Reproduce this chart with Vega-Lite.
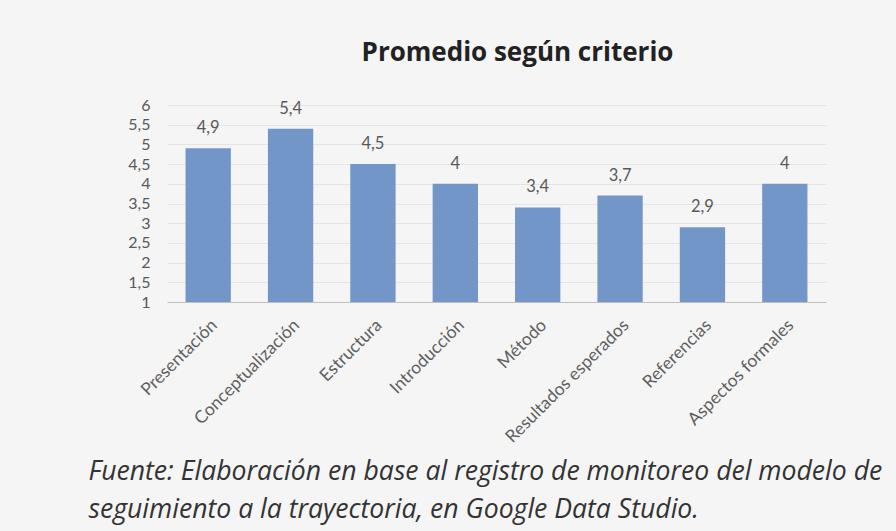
{
  "$schema": "https://vega.github.io/schema/vega-lite/v6.json",
  "autosize": "none",
  "width": 659,
  "height": 197,
  "padding": {"left": 167, "top": 105, "right": 70, "bottom": 229},
  "background": "#f5f5f5",
  "title": {
    "text": "Promedio según criterio",
    "font": "Open Sans",
    "fontSize": 26,
    "fontWeight": "bold",
    "color": "#222222",
    "anchor": "middle",
    "frame": "group",
    "dx": 21,
    "baseline": "alphabetic",
    "offset": 10
  },
  "data": {
    "values": [
      {"criterio": "Presentación", "promedio": 4.9},
      {"criterio": "Conceptualización", "promedio": 5.4},
      {"criterio": "Estructura", "promedio": 4.5},
      {"criterio": "Introducción", "promedio": 4},
      {"criterio": "Método", "promedio": 3.4},
      {"criterio": "Resultados esperados", "promedio": 3.7},
      {"criterio": "Referencias", "promedio": 2.9},
      {"criterio": "Aspectos formales", "promedio": 4}
    ]
  },
  "encoding": {
    "x": {
      "field": "criterio",
      "type": "nominal",
      "sort": null,
      "scale": {"paddingInner": 0.45, "paddingOuter": 0.225},
      "axis": {
        "title": ["Fuente: Elaboración en base al registro de monitoreo del modelo de", "seguimiento a la trayectoria, en Google Data Studio."],
        "titleFont": "Open Sans",
        "titleFontStyle": "italic",
        "titleFontWeight": "normal",
        "titleFontSize": 26.6,
        "titleColor": "#333333",
        "titleAlign": "left",
        "titleAnchor": "start",
        "titleBaseline": "alphabetic",
        "titleX": -79,
        "titleY": 177,
        "titleLineHeight": 38,
        "labelAngle": -45,
        "labelFont": "Lato",
        "labelFontSize": 17.5,
        "labelColor": "#606060",
        "labelPadding": 14,
        "ticks": false,
        "domainColor": "#bfbfbf",
        "domainWidth": 1.2,
        "grid": false
      }
    },
    "y": {
      "field": "promedio",
      "type": "quantitative",
      "scale": {"domain": [1, 6], "zero": false, "nice": false},
      "axis": {
        "title": null,
        "values": [1, 1.5, 2, 2.5, 3, 3.5, 4, 4.5, 5, 5.5, 6],
        "format": "~g",
        "labelFont": "Lato",
        "labelFontSize": 16,
        "labelColor": "#595959",
        "labelPadding": 17,
        "ticks": false,
        "domain": false,
        "grid": true,
        "gridColor": "#e4e4e4",
        "gridWidth": 1
      }
    }
  },
  "layer": [
    {"mark": {"type": "bar", "color": "#7396c9"}, "encoding": {"y2": {"datum": 1}}},
    {
      "mark": {"type": "text", "font": "Lato", "fontSize": 16.5, "color": "#595959", "baseline": "alphabetic", "dy": -15},
      "encoding": {"text": {"field": "promedio", "type": "quantitative", "format": "~g"}}
    }
  ],
  "config": {
    "locale": {"number": {"decimal": ",", "thousands": ".", "grouping": [3], "currency": ["", " €"]}},
    "view": {"stroke": null}
  }
}
